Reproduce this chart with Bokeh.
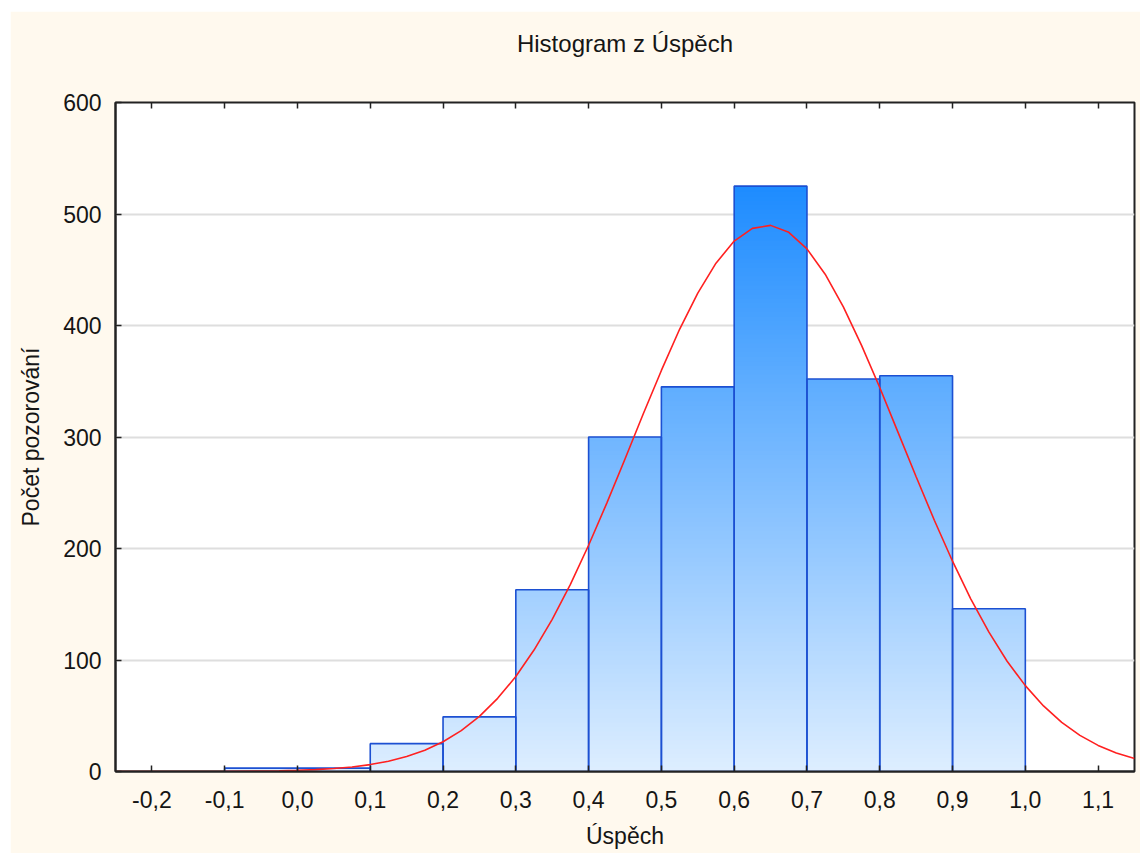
from bokeh.plotting import figure
from bokeh.models import FixedTicker, ColumnDataSource, LinearAxis
from bokeh.embed import file_html
from bokeh.resources import INLINE

# ---- data ----
bin_left = [-0.1, 0.0, 0.1, 0.2, 0.3, 0.4, 0.5, 0.6, 0.7, 0.8, 0.9]
bin_right = [0.0, 0.1, 0.2, 0.3, 0.4, 0.5, 0.6, 0.7, 0.8, 0.9, 1.0]
counts = [3, 3, 25, 49, 163, 300, 345, 525, 352, 355, 146]

curve_x = [-0.25, -0.2, -0.15, -0.1, -0.05, -0.025, 0.0, 0.025, 0.05, 0.075, 0.1,
           0.125, 0.15, 0.175, 0.2, 0.225, 0.25, 0.275, 0.3, 0.325, 0.35, 0.375,
           0.4, 0.425, 0.45, 0.475, 0.5, 0.525, 0.55, 0.575, 0.6, 0.625, 0.65,
           0.675, 0.7, 0.725, 0.75, 0.775, 0.8, 0.825, 0.85, 0.875, 0.9, 0.925,
           0.95, 0.975, 1.0, 1.025, 1.05, 1.075, 1.1, 1.125, 1.15]
curve_y = [0.0, 0.0, 0.0, 0.1, 0.4, 0.7, 1.1, 1.7, 2.7, 4.1, 6.2,
           9.2, 13.4, 19.1, 26.7, 36.7, 49.5, 65.6, 85.2, 108.9, 136.5, 167.9,
           202.9, 240.7, 280.3, 320.6, 359.7, 396.6, 429.0, 455.9, 475.7, 487.1, 489.8,
           483.6, 468.7, 446.0, 416.7, 382.2, 344.4, 304.4, 264.4, 225.3, 188.6, 154.9,
           125.0, 98.9, 77.0, 58.8, 44.0, 32.4, 23.4, 16.6, 11.6]

x_ticks = [-0.2, -0.1, 0.0, 0.1, 0.2, 0.3, 0.4, 0.5, 0.6, 0.7, 0.8, 0.9, 1.0, 1.1]
x_tick_labels = ["-0,2", "-0,1", "0,0", "0,1", "0,2", "0,3", "0,4", "0,5", "0,6",
                 "0,7", "0,8", "0,9", "1,0", "1,1"]
y_ticks = [0, 100, 200, 300, 400, 500, 600]

title_text = "Histogram z Úspěch"
x_label = "Úspěch"
y_label = "Počet pozorování"

FONT = "Liberation Sans"
FS = "23px"
TXT = "#151515"

p = figure(width=1130, height=842, x_range=(-0.25, 1.15), y_range=(0, 600),
           output_backend="svg", toolbar_location=None,
           min_border_left=105, min_border_right=6, min_border_top=91,
           min_border_bottom=82)
p.margin = (11, 0, 0, 10)
p.border_fill_color = "#FFF9EE"
p.background_fill_color = "white"
p.outline_line_color = "#222222"
p.outline_line_width = 2

# gradient fill: global vertical gradient by count level
top_c = (30, 140, 255)
bot_c = (222, 238, 255)
vmax = max(counts)

def grad(v):
    t = min(max(v / vmax, 0.0), 1.0)
    r = round(bot_c[0] + (top_c[0] - bot_c[0]) * t)
    g = round(bot_c[1] + (top_c[1] - bot_c[1]) * t)
    b = round(bot_c[2] + (top_c[2] - bot_c[2]) * t)
    return "#%02x%02x%02x" % (r, g, b)

strips = []
step = 4
for l, r, c in zip(bin_left, bin_right, counts):
    lv = step
    levels = []
    while lv < c:
        levels.append(lv)
        lv += step
    levels.append(c)
    for L in levels:
        strips.append((L, l, r))
strips.sort(key=lambda s: -s[0])
src = ColumnDataSource(dict(
    left=[s[1] for s in strips], right=[s[2] for s in strips],
    top=[s[0] for s in strips], bottom=[0] * len(strips),
    color=[grad(s[0]) for s in strips]))
p.quad(left="left", right="right", top="top", bottom="bottom", source=src,
       fill_color="color", line_color=None)

p.quad(left=bin_left, right=bin_right, top=counts, bottom=[0] * len(counts),
       fill_color=None, line_color="#1C50D2", line_width=1.6)

p.line(curve_x, curve_y, line_color="#FF2020", line_width=1.6)

# axes
p.xaxis.ticker = FixedTicker(ticks=x_ticks)
p.xaxis.major_label_overrides = {t: s for t, s in zip(x_ticks, x_tick_labels)}
p.yaxis.ticker = FixedTicker(ticks=y_ticks)
for ax in (p.xaxis[0], p.yaxis[0]):
    ax.major_tick_in = 6
    ax.major_tick_out = 0
    ax.minor_tick_line_color = None
    ax.axis_line_width = 2
    ax.axis_line_color = "#222222"
    ax.major_tick_line_color = "#222222"
    ax.major_tick_line_width = 1.5
    ax.major_label_text_font = FONT
    ax.major_label_text_font_size = FS
    ax.major_label_text_color = TXT
    ax.axis_label_text_font = FONT
    ax.axis_label_text_font_size = FS
    ax.axis_label_text_font_style = "normal"
    ax.axis_label_text_color = TXT
p.xaxis.axis_label = x_label
p.yaxis.axis_label = y_label
p.xaxis.major_label_standoff = 19
p.xaxis.axis_label_standoff = 12
p.yaxis.major_label_standoff = 14
p.yaxis.axis_label_standoff = 16

# top axis: inward tick marks only, carrying the chart title as its label
top_ax = LinearAxis(ticker=FixedTicker(ticks=[], minor_ticks=x_ticks))
top_ax.axis_line_color = None
top_ax.major_tick_line_color = None
top_ax.minor_tick_in = 6
top_ax.minor_tick_out = 0
top_ax.minor_tick_line_color = "#222222"
top_ax.minor_tick_line_width = 1.5
top_ax.axis_label = title_text
top_ax.axis_label_text_font = FONT
top_ax.axis_label_text_font_size = "24px"
top_ax.axis_label_text_font_style = "normal"
top_ax.axis_label_text_color = TXT
top_ax.axis_label_standoff = 46
p.add_layout(top_ax, "above")

p.xgrid.grid_line_color = None
p.ygrid.grid_line_color = "#DEDEDE"
p.ygrid.grid_line_width = 2

open("out.html", "w", encoding="utf-8").write(file_html(p, INLINE))
